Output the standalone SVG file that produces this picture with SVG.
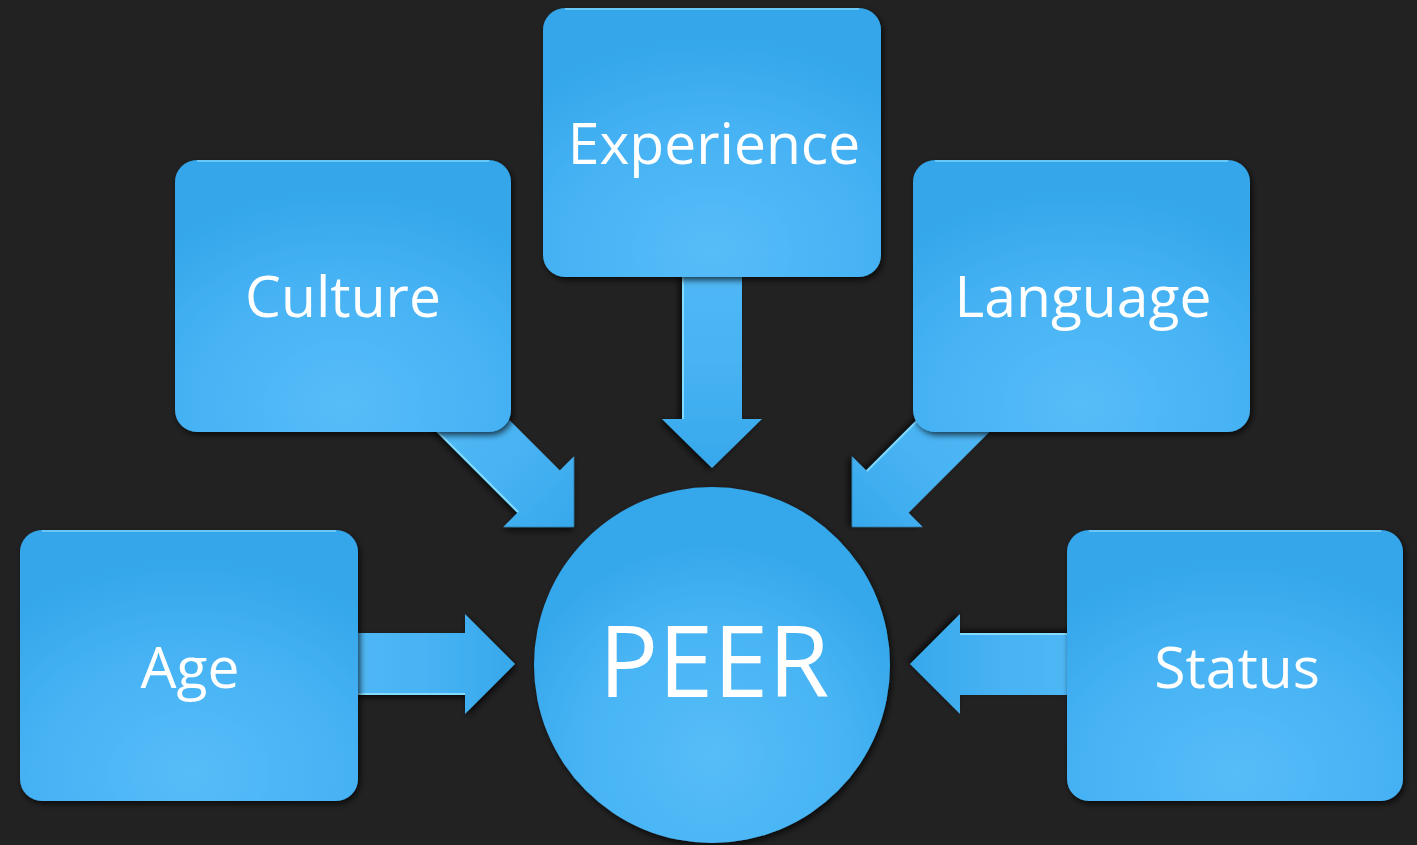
<svg xmlns="http://www.w3.org/2000/svg" width="1417" height="845" viewBox="0 0 1417 845">
  <style>
    .lbl { font-family: "Open Sans", "Noto Sans", "DejaVu Sans", sans-serif; fill: #ffffff; text-anchor: middle; font-size: 57px; }
    .box { fill: url(#boxFill); filter: url(#shadow); }
    .arrow { fill: url(#arrowFill); filter: url(#shadow); }
    .edge { stroke: #8fe3ff; stroke-width: 2; opacity: 0.85; }
    .rim { stroke: #7fd6ff; stroke-width: 2; opacity: 0.7; }
  </style>
  <defs>
    <radialGradient id="boxFill" cx="0.5" cy="0.9" r="0.8" fx="0.5" fy="0.9">
      <stop offset="0" stop-color="#57bdf9"/>
      <stop offset="0.55" stop-color="#47b3f4"/>
      <stop offset="1" stop-color="#34a6ea"/>
    </radialGradient>
    <radialGradient id="circleFill" cx="0.5" cy="0.75" r="0.6">
      <stop offset="0" stop-color="#56bdf8"/>
      <stop offset="0.6" stop-color="#48b4f4"/>
      <stop offset="1" stop-color="#35a7eb"/>
    </radialGradient>
    <linearGradient id="arrowFill" x1="0" y1="0" x2="1" y2="0">
      <stop offset="0" stop-color="#52b9f6"/>
      <stop offset="0.5" stop-color="#48b3f3"/>
      <stop offset="1" stop-color="#37a8eb"/>
    </linearGradient>
    <filter id="shadow" x="-20%" y="-20%" width="140%" height="140%">
      <feDropShadow dx="2" dy="3" stdDeviation="3" flood-color="#000000" flood-opacity="0.7"/>
    </filter>
  </defs>

  <rect width="1417" height="845" fill="#222222"/>

  <!-- connectors: block arrows pointing at the centre circle (tip at local origin, pointing +x) -->
  <g id="connectors">
    <g transform="translate(515,664)">
      <path class="arrow" d="M0,0 L-50,-50 L-50,-31 L-180,-31 L-180,31 L-50,31 L-50,50 Z"/>
      <line class="edge" x1="-180" y1="30" x2="-50" y2="30"/>
    </g>
    <g transform="translate(910,664) rotate(180)">
      <path class="arrow" d="M0,0 L-50,-50 L-50,-31 L-185,-31 L-185,31 L-50,31 L-50,50 Z"/>
      <line class="edge" x1="-185" y1="30" x2="-50" y2="30"/>
    </g>
    <g transform="translate(712,468) rotate(90)">
      <path class="arrow" d="M0,0 L-49,-50 L-49,-30 L-215,-30 L-215,30 L-49,30 L-49,50 Z"/>
      <line class="edge" x1="-215" y1="29" x2="-49" y2="29"/>
    </g>
    <g transform="translate(574,527) rotate(45)">
      <path class="arrow" d="M0,0 L-50,-50 L-50,-30 L-190,-30 L-190,30 L-50,30 L-50,50 Z"/>
      <line class="edge" x1="-190" y1="29" x2="-50" y2="29"/>
    </g>
    <g transform="translate(852,527) rotate(135)">
      <path class="arrow" d="M0,0 L-50,-50 L-50,-30 L-190,-30 L-190,30 L-50,30 L-50,50 Z"/>
      <line class="edge" x1="-190" y1="29" x2="-50" y2="29"/>
    </g>
  </g>

  <g id="node-experience">
    <rect class="box" x="543" y="8" width="338" height="269" rx="22"/>
    <line class="rim" x1="565" y1="9" x2="859" y2="9"/>
    <text class="lbl" x="714" y="164">Experience</text>
  </g>

  <g id="node-culture">
    <rect class="box" x="175" y="160" width="336" height="272" rx="22"/>
    <line class="rim" x1="197" y1="161" x2="489" y2="161"/>
    <text class="lbl" x="343" y="317">Culture</text>
  </g>

  <g id="node-language">
    <rect class="box" x="913" y="160" width="337" height="272" rx="22"/>
    <line class="rim" x1="935" y1="161" x2="1228" y2="161"/>
    <text class="lbl" x="1083" y="317">Language</text>
  </g>

  <g id="node-age">
    <rect class="box" x="20" y="530" width="338" height="271" rx="22"/>
    <line class="rim" x1="42" y1="531" x2="336" y2="531"/>
    <text class="lbl" x="190" y="688">Age</text>
  </g>

  <g id="node-status">
    <rect class="box" x="1067" y="530" width="336" height="271" rx="22"/>
    <line class="rim" x1="1089" y1="531" x2="1381" y2="531"/>
    <text class="lbl" x="1237" y="688">Status</text>
  </g>

  <g id="node-peer">
    <circle cx="712" cy="665" r="178" fill="url(#circleFill)" filter="url(#shadow)"/>
    <text class="lbl" x="714" y="697" style="font-size:99px">PEER</text>
  </g>
</svg>
